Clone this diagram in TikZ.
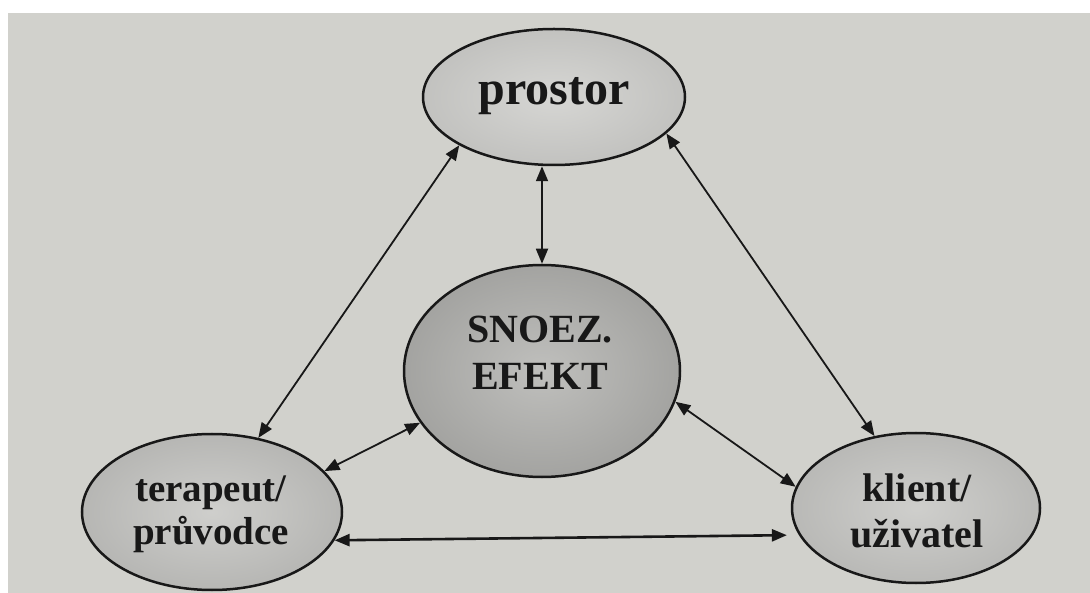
\documentclass[tikz,border=0pt]{standalone}
\usepackage{fontspec}
\setmainfont{Liberation Serif}
\usetikzlibrary{arrows.meta,shapes.geometric}
\definecolor{pagebg}{RGB}{209,209,204}
\definecolor{ink}{RGB}{24,24,24}
\pgfdeclareradialshading{shP}{\pgfpointorigin}{rgb(0bp)=(0.84,0.84,0.83); rgb(50bp)=(0.68,0.68,0.67)}
\pgfdeclareradialshading{shS}{\pgfpointorigin}{rgb(0bp)=(0.75,0.75,0.74); rgb(50bp)=(0.53,0.53,0.52)}
\pgfdeclareradialshading{shT}{\pgfpointorigin}{rgb(0bp)=(0.81,0.81,0.80); rgb(50bp)=(0.62,0.62,0.61)}
\pgfdeclareradialshading{shK}{\pgfpointorigin}{rgb(0bp)=(0.81,0.81,0.80); rgb(50bp)=(0.64,0.64,0.63)}
\begin{document}
\begin{tikzpicture}[x=1pt,y=-1pt,
  ell/.style={ellipse, draw=ink, line width=2.5pt, inner sep=0pt, shade},
  lbl/.style={text=ink, align=center},
  tip/.tip={Triangle[length=15pt,width=12pt]},
  arr/.style={tip-tip, line width=1.8pt, draw=ink},
]
\useasboundingbox (0,0) rectangle (1090,593);
\fill[white] (0,0) rectangle (1090,593);
\fill[pagebg] (8,13) rectangle (1090,593);

\node[ell, shading=shP, minimum width=262pt, minimum height=136pt] (prostor) at (554,97) {};
\node[ell, shading=shS, minimum width=276pt, minimum height=212pt] (snoez) at (542,371) {};
\node[ell, shading=shT, minimum width=260pt, minimum height=156pt] (terapeut) at (212,512) {};
\node[ell, shading=shK, minimum width=248pt, minimum height=150pt] (klient) at (916,508) {};

\node[lbl, font=\bfseries\fontsize{48}{56}\selectfont, anchor=base] (prostorlbl) at (554,105) {prostor};
\node[lbl, font=\bfseries\fontsize{40}{47}\selectfont] (snoezlbl) at (540,353) {SNOEZ.\\EFEKT};
\node[lbl, font=\bfseries\fontsize{39}{43}\selectfont] (terapeutlbl) at (211,514) {terapeut/\\průvodce};
\node[lbl, font=\bfseries\fontsize{40}{46}\selectfont] (klientlbl) at (917,511) {klient/\\uživatel};

\draw[arr] (prostor.207) -- (terapeut.58);
\draw[arr] (snoez.north) -- (snoez.north |- prostor.south);
\draw[arr] (prostor.342) -- (klient.120);
\draw[arr] (snoez.203) -- (terapeut.20);
\draw[arr] (snoez.347) -- (klient.170);
\draw[arr, line width=2.6pt, shorten >=12pt] (terapeut.347) -- (klient.193);
\end{tikzpicture}
\end{document}
